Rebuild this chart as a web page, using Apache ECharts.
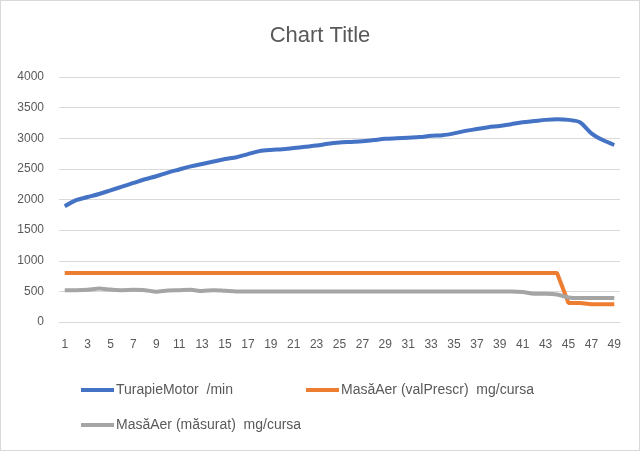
<!DOCTYPE html>
<html>
<head>
<meta charset="utf-8">
<script src="https://cdn.jsdelivr.net/npm/echarts@6/dist/echarts.min.js"></script>
<style>
html,body{margin:0;padding:0;background:#fff;}
#c{width:638px;height:449px;border:1px solid #D9D9D9;}
</style>
</head>
<body>
<div id="c"></div>
<script>
const categories = Array.from({length:49},(_,i)=>String(i+1));
const turatie = [1890,1990,2040,2090,2150,2210,2270,2330,2380,2440,2490,2540,2580,2620,2660,2690,2740,2790,2810,2820,2840,2860,2880,2910,2930,2940,2950,2970,2990,3000,3010,3020,3040,3050,3080,3120,3150,3180,3200,3230,3260,3280,3300,3310,3300,3260,3080,2970,2890];
const valPrescr = [800,800,800,800,800,800,800,800,800,800,800,800,800,800,800,800,800,800,800,800,800,800,800,800,800,800,800,800,800,800,800,800,800,800,800,800,800,800,800,800,800,800,800,800,310,310,290,290,290];
const masurat = [520,520,525,545,530,520,525,520,495,515,520,525,505,520,510,500,500,500,500,500,500,500,500,500,500,500,500,500,500,500,500,500,500,500,500,500,500,500,500,500,490,460,460,450,400,390,390,390,390];
const names = ['TurapieMotor  /min','MasăAer (valPrescr)  mg/cursa','MasăAer (măsurat)  mg/cursa'];

const chart = echarts.init(document.getElementById('c'));
const txt = {color:'#595959', fontFamily:'Liberation Sans', fontSize:12};
function leg(name,left,top){
  return {data:[name], left:left, top:top, itemWidth:33, itemHeight:4, icon:'rect', itemGap:0,
    textStyle:Object.assign({}, txt, {fontSize:14, padding:[0,0,0,-3]})};
}
chart.setOption({
  animation:false,
  title:{text:'Chart Title', left:'center', top:19, textStyle:{color:'#595959', fontFamily:'Liberation Sans', fontSize:22, fontWeight:'normal'}},
  grid:{left:58, right:19, top:76, bottom:128},
  legend:[leg(names[0],75,377), leg(names[1],300,377), leg(names[2],75,412)],
  xAxis:{type:'category', data:categories, boundaryGap:true,
    axisLine:{lineStyle:{color:'#D9D9D9'}}, axisTick:{show:false},
    axisLabel:Object.assign({interval:1, margin:17}, txt)},
  yAxis:{type:'value', min:0, max:4000, interval:500,
    axisLine:{show:false}, axisTick:{show:false},
    splitLine:{lineStyle:{color:'#D9D9D9'}},
    axisLabel:Object.assign({margin:15, formatter:function(v){return String(v);}}, txt)},
  series:[
    {name:names[0], type:'line', data:turatie, smooth:0.3, showSymbol:false, lineStyle:{width:4, color:'#4472C4'}, itemStyle:{color:'#4472C4'}},
    {name:names[1], type:'line', data:valPrescr, smooth:false, showSymbol:false, lineStyle:{width:4, color:'#ED7D31'}, itemStyle:{color:'#ED7D31'}},
    {name:names[2], type:'line', data:masurat, smooth:0.3, showSymbol:false, lineStyle:{width:4, color:'#A5A5A5'}, itemStyle:{color:'#A5A5A5'}}
  ]
});
</script>
</body>
</html>
